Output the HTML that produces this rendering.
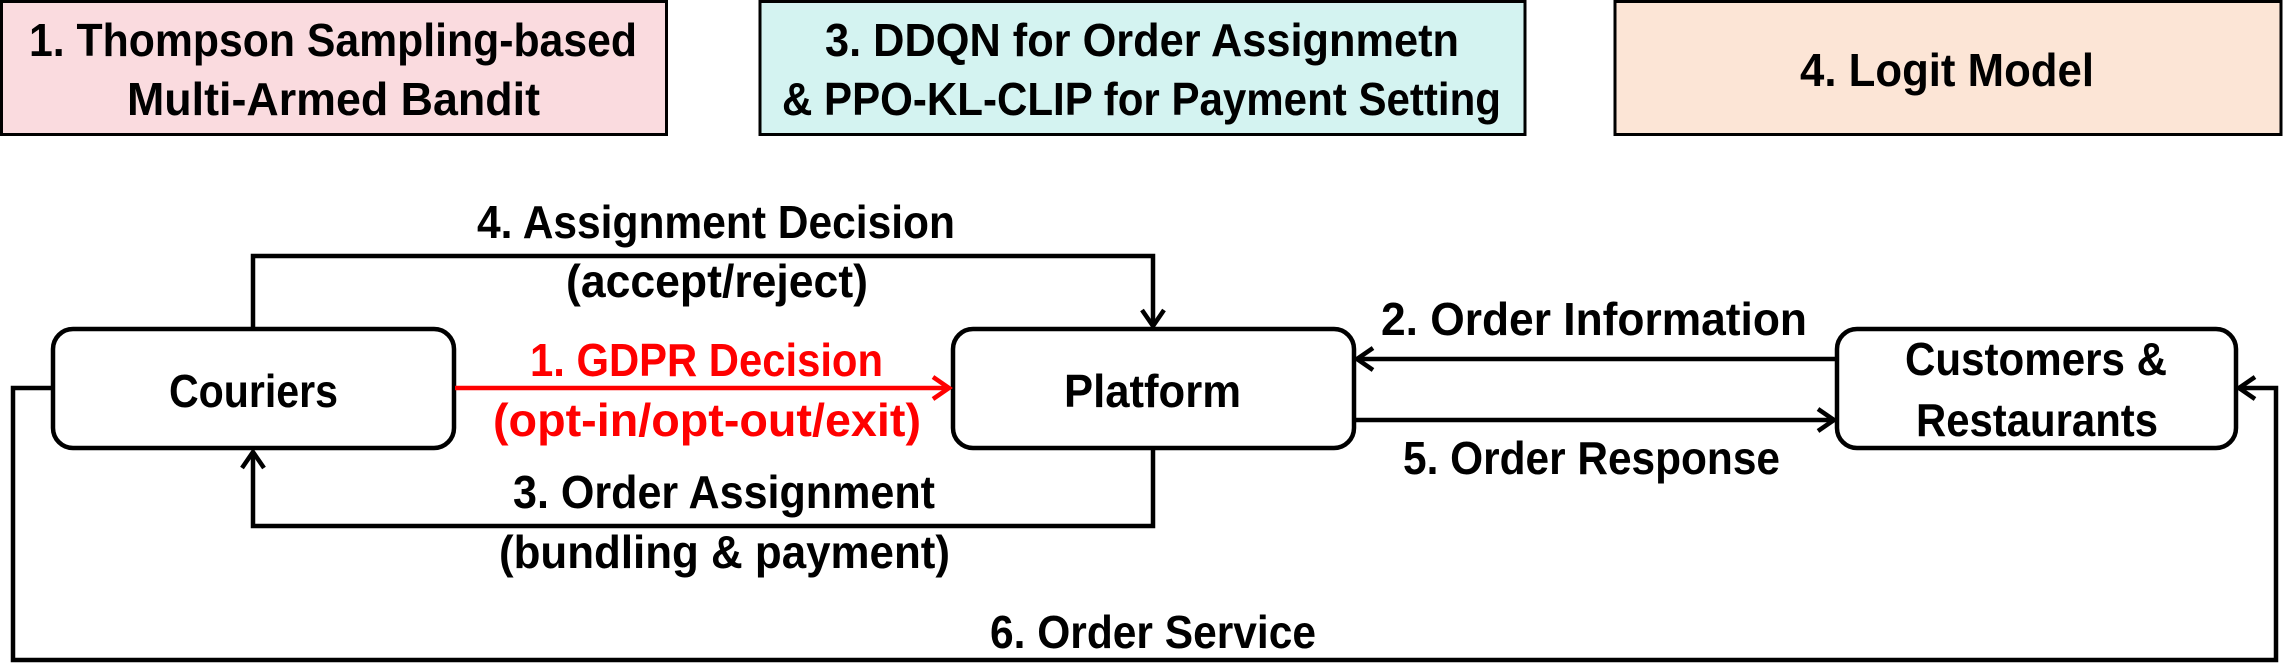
<!DOCTYPE html>
<html><head><meta charset="utf-8"><style>
html,body{margin:0;padding:0;background:#fff;}
svg{display:block;}
text{font-family:"Liberation Sans",sans-serif;font-weight:bold;font-size:46px;fill:#000;}
</style></head><body>
<svg width="2283" height="663" viewBox="0 0 2283 663" xmlns="http://www.w3.org/2000/svg">
<rect x="1.5" y="1.5" width="665" height="133" fill="#fadbdf" stroke="#000" stroke-width="3"/>
<rect x="760" y="1.5" width="765" height="133" fill="#d4f3f1" stroke="#000" stroke-width="3"/>
<rect x="1615" y="1.5" width="666" height="133" fill="#fce5d6" stroke="#000" stroke-width="3"/>
<text x="29" y="56" textLength="608" lengthAdjust="spacingAndGlyphs">1. Thompson Sampling-based</text>
<text x="127" y="115" textLength="413" lengthAdjust="spacingAndGlyphs">Multi-Armed Bandit</text>
<text x="825" y="56" textLength="634" lengthAdjust="spacingAndGlyphs">3. DDQN for Order Assignmetn</text>
<text x="782" y="115" textLength="719" lengthAdjust="spacingAndGlyphs">&amp; PPO-KL-CLIP for Payment Setting</text>
<text x="1800" y="86" textLength="294" lengthAdjust="spacingAndGlyphs">4. Logit Model</text>

<g fill="none" stroke="#000" stroke-width="4.5">
<rect x="53" y="329" width="401" height="119" rx="20"/>
<rect x="953" y="329" width="401" height="119" rx="20"/>
<rect x="1837" y="329" width="399" height="119" rx="20"/>
<polyline points="253,329 253,256 1153,256 1153,326"/>
<polyline points="1142,310 1153,326 1164,310"/>
<polyline points="1153,449 1153,526 253,526 253,452"/>
<polyline points="242,468 253,452 264,468"/>
<line x1="1837" y1="359" x2="1357" y2="359"/>
<polyline points="1373,348 1357,359 1373,370"/>
<line x1="1354" y1="420" x2="1834" y2="420"/>
<polyline points="1818,409 1834,420 1818,431"/>
<polyline points="53,388 13,388 13,660 2276,660 2276,388 2239,388"/>
<polyline points="2255,377 2239,388 2255,399"/>
</g>
<g fill="none" stroke="#f00" stroke-width="4.5">
<line x1="455" y1="388" x2="949" y2="388"/>
<polyline points="933,377 949,388 933,399"/>
</g>

<text x="169" y="407" textLength="169" lengthAdjust="spacingAndGlyphs">Couriers</text>
<text x="1064" y="407" textLength="177" lengthAdjust="spacingAndGlyphs">Platform</text>
<text x="1905" y="375" textLength="262" lengthAdjust="spacingAndGlyphs">Customers &amp;</text>
<text x="1916" y="436" textLength="242" lengthAdjust="spacingAndGlyphs">Restaurants</text>

<text x="477" y="238" textLength="478" lengthAdjust="spacingAndGlyphs">4. Assignment Decision</text>
<text x="566" y="297" textLength="302" lengthAdjust="spacingAndGlyphs">(accept/reject)</text>
<text x="530" y="376" textLength="353" lengthAdjust="spacingAndGlyphs" style="fill:#f00">1. GDPR Decision</text>
<text x="493" y="436" textLength="428" lengthAdjust="spacingAndGlyphs" style="fill:#f00">(opt-in/opt-out/exit)</text>
<text x="513" y="508" textLength="422" lengthAdjust="spacingAndGlyphs">3. Order Assignment</text>
<text x="499" y="568" textLength="451" lengthAdjust="spacingAndGlyphs">(bundling &amp; payment)</text>
<text x="1381" y="335" textLength="426" lengthAdjust="spacingAndGlyphs">2. Order Information</text>
<text x="1403" y="474" textLength="377" lengthAdjust="spacingAndGlyphs">5. Order Response</text>
<text x="990" y="648" textLength="326" lengthAdjust="spacingAndGlyphs">6. Order Service</text>
</svg>
</body></html>
